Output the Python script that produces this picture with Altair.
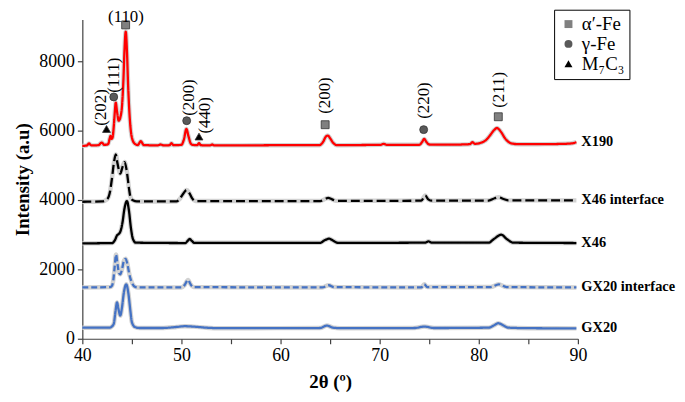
import altair as alt
import pandas as pd

# ---------------- data ----------------
series_names = ["X190", "X46 interface", "X46", "GX20 interface", "GX20"]
series_colors = ["#ff0000", "#000000", "#000000", "#4472c4", "#4472c4"]
series_dash = [[1, 0], [9, 4], [1, 0], [6, 3], [1, 0]]

x190_x = [40.0, 40.45, 40.67, 40.9, 41.6, 41.97, 42.2, 42.6, 42.75, 42.85, 42.95, 43.05, 43.18,
          43.28, 43.37, 43.5, 43.67, 43.85, 44.0, 44.15, 44.25, 44.38, 44.5, 44.62, 44.8, 45.0,
          45.3, 45.6, 45.9, 46.2, 47.6, 47.9, 48.2, 48.8, 49.0, 49.2, 50.0, 50.25, 50.5, 50.7,
          50.9, 51.1, 51.6, 51.77, 51.95, 52.9, 53.1, 53.3, 56.0, 60.0, 63.9, 64.3, 64.55, 64.77,
          65.0, 65.3, 65.7, 68.0, 70.1, 70.4, 70.7, 74.0, 74.3, 74.5, 74.7, 75.0, 77.0, 79.1,
          79.37, 79.6, 80.2, 80.67, 81.1, 81.5, 81.84, 82.2, 82.7, 83.3, 84.0, 86.0, 88.0, 89.3,
          89.85]
x190_y = [5560, 5570, 5630, 5575, 5580, 5657, 5590, 5610, 5760, 5850, 5760, 5800, 6150,
          6550, 6810, 6550, 6286, 6400, 6700, 7500, 8300, 8857, 8300, 7300, 6300, 5800,
          5620, 5585, 5695, 5585, 5575, 5600, 5575, 5580, 5637, 5580, 5590, 5750, 6048, 5850,
          5650, 5590, 5580, 5640, 5580, 5575, 5600, 5575, 5575, 5580, 5580, 5680, 5820, 5857,
          5780, 5650, 5580, 5585, 5590, 5619, 5590, 5590, 5680, 5762, 5680, 5600, 5595, 5610,
          5667, 5620, 5650, 5714, 5850, 6000, 6076, 5980, 5760, 5630, 5610, 5610, 5615, 5630,
          5667]

x46i_x = [40.0, 42.0, 42.5, 42.8, 43.0, 43.2, 43.37, 43.55, 43.83, 44.05, 44.27, 44.5, 44.7,
          44.85, 45.1, 45.5, 49.5, 49.8, 50.1, 50.53, 50.8, 51.1, 51.4, 64.0, 64.5, 64.8, 65.2,
          65.6, 74.2, 74.6, 74.9, 75.3, 81.0, 81.6, 82.0, 82.5, 83.0, 89.85]
x46i_y = [3950, 3960, 4020, 4250, 4650, 5100, 5314, 5050, 4762, 4950, 5095, 4800, 4350,
          4095, 3990, 3960, 3960, 4020, 4150, 4286, 4200, 4040, 3970, 3970, 4030, 4060, 4020,
          3975, 3980, 4130, 4020, 3980, 3985, 4050, 4080, 4030, 3990, 3990]

x46_x = [40.0, 43.0, 43.3, 43.5, 43.67, 43.85, 44.05, 44.25, 44.5, 44.7, 44.9, 45.1, 45.4,
         50.4, 50.65, 50.83, 51.05, 51.3, 64.0, 64.4, 64.9, 65.3, 65.8, 74.6, 74.93, 75.25,
         81.0, 81.5, 82.27, 82.8, 83.5, 89.85]
x46_y = [2750, 2760, 2850, 2980, 3019, 3100, 3350, 3750, 3971, 3700, 3200, 2880, 2770,
         2760, 2830, 2876, 2820, 2765, 2765, 2830, 2886, 2830, 2765, 2770, 2810, 2770,
         2770, 2870, 3000, 2880, 2770, 2760]

gx20i_x = [40.0, 42.8, 43.0, 43.13, 43.27, 43.4, 43.55, 43.7, 43.83, 44.0, 44.2, 44.37, 44.55,
           44.75, 45.0, 45.3, 45.6, 50.0, 50.3, 50.67, 50.9, 51.2, 64.2, 64.87, 65.4, 74.2,
           74.5, 74.8, 81.2, 82.0, 82.8, 89.85]
gx20i_y = [1480, 1490, 1530, 1700, 2100, 2429, 2150, 1900, 1857, 2000, 2250, 2305, 2150,
           1850, 1619, 1500, 1480, 1480, 1540, 1695, 1580, 1490, 1480, 1543, 1490, 1480,
           1571, 1490, 1490, 1571, 1490, 1480]

gx20_x = [40.0, 42.8, 43.0, 43.17, 43.35, 43.5, 43.65, 43.83, 44.0, 44.2, 44.43, 44.65, 44.85,
          45.0, 45.3, 45.8, 48.0, 49.5, 50.33, 51.2, 52.5, 54.0, 64.0, 64.67, 65.3, 66.0,
          73.5, 74.5, 75.5, 81.0, 81.5, 81.97, 82.5, 83.0, 85.0, 89.85]
gx20_y = [320, 320, 360, 430, 800, 1048, 850, 667, 900, 1350, 1571, 1300, 800,
          476, 340, 310, 310, 340, 362, 350, 320, 305, 310, 381, 320, 305,
          310, 352, 310, 320, 380, 448, 380, 320, 305, 300]

series_x = [x190_x, x46i_x, x46_x, gx20i_x, gx20_x]
series_y = [x190_y, x46i_y, x46_y, gx20i_y, gx20_y]

phases = ["α′-Fe", "γ-Fe", "M₇C₃"]
phase_shapes = ["square", "circle", "triangle-up"]
phase_fills = ["#808080", "#595959", "#000000"]

marker_phase = ["α′-Fe", "γ-Fe", "M₇C₃", "γ-Fe", "M₇C₃", "α′-Fe", "γ-Fe", "α′-Fe"]
marker_x = [44.37, 43.17, 42.44, 50.53, 51.77, 64.5, 74.44, 81.97]
marker_y = [9048, 6971, 6048, 6286, 5829, 6171, 6029, 6400]

hkl_text = ["(111)", "(202)", "(200)", "(440)", "(200)", "(220)", "(211)"]
hkl_x = [43.2, 41.84, 50.8, 52.35, 64.5, 74.44, 82.07]
hkl_y = [7090, 6143, 6429, 5914, 6486, 6343, 6657]

top_text = ["(110)"]
top_x = [44.4]
top_y = [9280]

# ---------------- tables ----------------
rows = []
for name, xs, ys in zip(series_names, series_x, series_y):
    for i, (a, b) in enumerate(zip(xs, ys)):
        rows.append({"series": name, "tt": a, "I": b, "k": i})
df = pd.DataFrame(rows)

end_df = pd.DataFrame({
    "series": series_names,
    "tt": [xs[-1] for xs in series_x],
    "I": [ys[-1] for ys in series_y],
})

mk_df = pd.DataFrame({"phase": marker_phase, "tt": marker_x, "I": marker_y})
hkl_df = pd.DataFrame({"t": hkl_text, "tt": hkl_x, "I": hkl_y})
top_df = pd.DataFrame({"t": top_text, "tt": top_x, "I": top_y})

SERIF = "Times New Roman, Liberation Serif, DejaVu Serif, serif"

x_scale = alt.Scale(domain=[40, 90], nice=False, zero=False)
y_scale = alt.Scale(domain=[0, 9200], nice=False)

x_enc = alt.X("tt:Q", scale=x_scale, axis=alt.Axis(
    title="2θ (º)", values=list(range(40, 91, 5)),
    labelExpr="datum.value % 10 == 0 ? datum.value : ''",
    grid=False, tickSize=5, labelPadding=3, titlePadding=8, labelFlush=False))
y_enc = alt.Y("I:Q", scale=y_scale, axis=alt.Axis(
    title="Intensity (a.u)", values=[0, 2000, 4000, 6000, 8000], format="d",
    grid=False, tickSize=5, labelPadding=3, titlePadding=6))

grey = alt.Chart(df).mark_line(color="#d2d2d2", strokeWidth=4.5, interpolate="monotone").encode(
    x=x_enc, y=y_enc, detail="series:N", order="k:Q")

lines = alt.Chart(df).mark_line(strokeWidth=2.3, interpolate="monotone").encode(
    x=x_enc, y=y_enc,
    color=alt.Color("series:N", scale=alt.Scale(domain=series_names, range=series_colors), legend=None),
    strokeDash=alt.StrokeDash("series:N", scale=alt.Scale(domain=series_names, range=series_dash), legend=None),
    order="k:Q")

leg = alt.Legend(title=None, orient="none", legendX=476, legendY=-10,
                 strokeColor="#000000", fillColor="#ffffff", padding=5,
                 labelFont=SERIF, labelFontSize=19, labelColor="#000000",
                 symbolSize=64, rowPadding=0, symbolStrokeColor="#333333",
                 symbolStrokeWidth=0.8, labelOffset=4)

markers = alt.Chart(mk_df).mark_point(filled=True, size=64, stroke="#333333",
                                      strokeWidth=0.8, opacity=1).encode(
    x=x_enc, y=y_enc,
    shape=alt.Shape("phase:N", scale=alt.Scale(domain=phases, range=phase_shapes), legend=leg),
    fill=alt.Fill("phase:N", scale=alt.Scale(domain=phases, range=phase_fills), legend=leg))

hkl = alt.Chart(hkl_df).mark_text(angle=270, align="left", baseline="middle",
                                  font=SERIF, fontSize=17, color="#000000").encode(
    x=x_enc, y=y_enc, text="t:N")

top = alt.Chart(top_df).mark_text(align="center", baseline="middle",
                                  font=SERIF, fontSize=17, color="#000000").encode(
    x=x_enc, y=y_enc, text="t:N")

ends = alt.Chart(end_df).mark_text(align="left", baseline="middle", dx=5,
                                   font=SERIF, fontSize=14.5, fontWeight="bold",
                                   color="#000000").encode(
    x=x_enc, y=y_enc, text="series:N")

chart = alt.layer(grey, lines, markers, hkl, top, ends).properties(
    width=500, height=322,
    autosize=alt.AutoSizeParams(type="none"),
    padding={"left": 75, "top": 10, "right": 100, "bottom": 54},
).configure_view(stroke=None).configure_axis(
    domainColor="#404040", tickColor="#404040", domainWidth=1.2, tickWidth=1.2,
    labelFont=SERIF, labelFontSize=18, labelColor="#000000",
    titleFont=SERIF, titleFontSize=19, titleFontWeight="bold", titleColor="#000000")

chart.save("out.html", embed_options={"renderer": "svg", "actions": False})
